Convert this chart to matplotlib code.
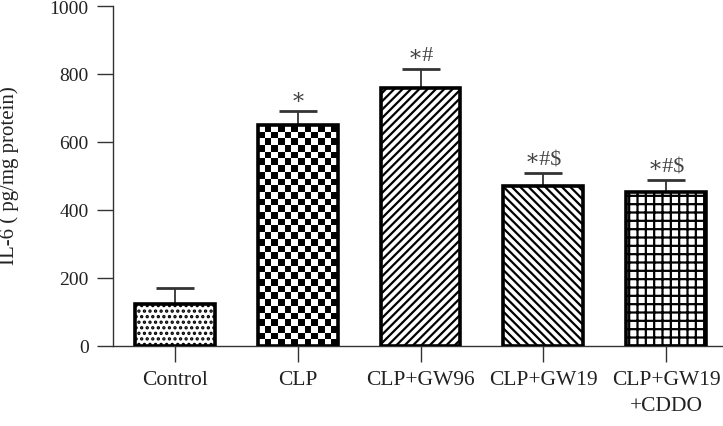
import numpy as np
import matplotlib
matplotlib.use("Agg")
import matplotlib.pyplot as plt

# data
groups = ["Control", "CLP", "CLP+GW96", "CLP+GW19", "CLP+GW19\n+CDDO"]
means = [123, 650, 760, 472, 452]
sd = [48, 40, 56, 37, 36]
marks = ["", "\u2217", "\u2217#", "\u2217#$", "\u2217#$"]
hatches = ["...", None, "////", "\\\\\\\\", "++"]

plt.rcParams["font.family"] = ["Liberation Serif", "DejaVu Serif"]
plt.rcParams["hatch.linewidth"] = 1.6
plt.rcParams["hatch.color"] = "#1a1a1a"

fig = plt.figure(figsize=(7.23, 4.27), dpi=100)
ax = fig.add_axes([0.1563, 0.1874, 1 - 0.1563, 0.7962])

x = np.arange(len(groups))
width = 0.65
xlim = (-0.505, 4.464)
ylim = (0, 1000)

bars = ax.bar(x, means, width, color="white", edgecolor="black",
              linewidth=2.6, zorder=3)
for b, h in zip(bars, hatches):
    if h:
        b.set_hatch(h)

# checkerboard fill for the CLP bar
b = bars[1]
w_px = b.get_width() / (xlim[1] - xlim[0]) * 610
h_px = b.get_height() / (ylim[1] - ylim[0]) * 340
cols = 12
rows = int(round(cols * h_px / w_px))
board = (np.add.outer(np.arange(rows), np.arange(cols)) % 2).astype(float)
img = ax.imshow(board, cmap="gray_r", vmin=0, vmax=1, aspect="auto",
                interpolation="nearest",
                extent=(b.get_x(), b.get_x() + b.get_width(), 0, b.get_height()),
                zorder=3.5)
img.set_clip_path(b)
b.set_facecolor("none")
b.set_zorder(4)

ax.errorbar(x, means, yerr=[np.zeros(len(sd)), sd], fmt="none",
            ecolor="#333333", elinewidth=1.3, capsize=14, capthick=2,
            zorder=2)

for xi, m, s, t in zip(x, means, sd, marks):
    if t:
        ax.text(xi, m + s + 10, t, ha="center", va="bottom",
                fontsize=16, color="#444444")

ax.set_xlim(*xlim)
ax.set_ylim(*ylim)
ax.set_xticks(x)
ax.set_xticklabels(groups, fontsize=15.5, linespacing=1.45)
ax.set_yticks(range(0, 1001, 200))

for s in ["top", "right"]:
    ax.spines[s].set_visible(False)
for s in ["left", "bottom"]:
    ax.spines[s].set_linewidth(1.0)
    ax.spines[s].set_color("#333333")
ax.tick_params(axis="both", direction="out", length=11.5, width=1.0,
               color="#333333", labelcolor="#222222")
ax.tick_params(axis="y", labelsize=14, pad=6)
ax.tick_params(axis="x", pad=6)

fig.text(9 / 723, 1 - 176 / 427, "IL-6 ( pg/mg protein)", rotation=90,
         ha="center", va="center", fontsize=15, color="#222222")

fig.savefig("out.png", dpi=100)
